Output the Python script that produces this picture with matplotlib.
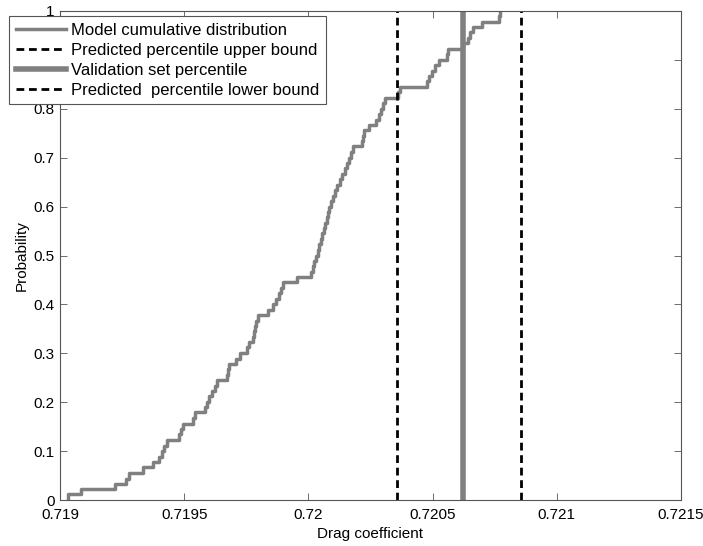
import matplotlib
matplotlib.use('Agg')
import matplotlib.pyplot as plt
from matplotlib.ticker import FuncFormatter

plt.rcParams['font.family'] = ['Liberation Sans', 'DejaVu Sans']

# empirical CDF of model drag coefficient (step positions and probabilities)
drag = [0.719033, 0.719083, 0.719221, 0.719264, 0.719278, 0.719333, 0.719376,
        0.719400, 0.719409, 0.719417, 0.719432, 0.719479, 0.719486, 0.719496,
        0.719537, 0.719543, 0.719584, 0.719591, 0.719600, 0.719612, 0.719624,
        0.719633, 0.719671, 0.719676, 0.719682, 0.719709, 0.719725, 0.719752,
        0.719761, 0.719776, 0.719781, 0.719787, 0.719791, 0.719796, 0.719839,
        0.719859, 0.719870, 0.719883, 0.719890, 0.719899, 0.719953, 0.720010,
        0.720017, 0.720024, 0.720031, 0.720037, 0.720043, 0.720049, 0.720055,
        0.720061, 0.720067, 0.720073, 0.720079, 0.720085, 0.720091, 0.720100,
        0.720109, 0.720117, 0.720127, 0.720135, 0.720147, 0.720157, 0.720165,
        0.720171, 0.720179, 0.720214, 0.720219, 0.720225, 0.720245, 0.720272,
        0.720285, 0.720294, 0.720302, 0.720308, 0.720361, 0.720369, 0.720476,
        0.720485, 0.720498, 0.720510, 0.720527, 0.720559, 0.720564, 0.720621,
        0.720642, 0.720650, 0.720661, 0.720698, 0.720769, 0.720773]
prob = [0.0117, 0.023, 0.033, 0.044, 0.056, 0.067, 0.078,
        0.089, 0.100, 0.111, 0.123, 0.134, 0.145, 0.156,
        0.167, 0.179, 0.190, 0.201, 0.212, 0.223, 0.234,
        0.245, 0.256, 0.267, 0.278, 0.289, 0.300, 0.312,
        0.323, 0.334, 0.345, 0.356, 0.367, 0.378, 0.389,
        0.400, 0.412, 0.423, 0.434, 0.445, 0.456, 0.467,
        0.478, 0.489, 0.500, 0.511, 0.523, 0.534, 0.545,
        0.556, 0.567, 0.578, 0.589, 0.600, 0.611, 0.622,
        0.634, 0.645, 0.656, 0.667, 0.678, 0.689, 0.700,
        0.712, 0.723, 0.734, 0.745, 0.756, 0.767, 0.778,
        0.789, 0.800, 0.812, 0.823, 0.834, 0.845, 0.856,
        0.867, 0.878, 0.889, 0.900, 0.912, 0.923, 0.934,
        0.945, 0.956, 0.967, 0.978, 0.989, 1.000]

upper_bound = 0.720358
validation = 0.720621
lower_bound = 0.720855

xticks = [0.719, 0.7195, 0.72, 0.7205, 0.721, 0.7215]
yticks = [0, 0.1, 0.2, 0.3, 0.4, 0.5, 0.6, 0.7, 0.8, 0.9, 1]

grey = (0.5, 0.5, 0.5)
dash = (0, (2.8, 1.7))

fig = plt.figure(figsize=(7.03, 5.46), dpi=100)
ax = fig.add_axes([0.0853, 0.0842, 0.8834, 0.8957])

ax.step([drag[0]] + drag, [0] + prob, where='post', color=grey, lw=2.5,
        label='Model cumulative distribution')
ax.axvline(upper_bound, color='black', lw=2, linestyle=dash,
           label='Predicted percentile upper bound')
ax.axvline(validation, color=grey, lw=4,
           label='Validation set percentile')
ax.axvline(lower_bound, color='black', lw=2, linestyle=dash,
           label='Predicted  percentile lower bound')

ax.set_xlim(0.719, 0.7215)
ax.set_ylim(0, 1)
ax.set_xticks(xticks)
ax.set_yticks(yticks)
fmt = FuncFormatter(lambda v, p: '%g' % v)
ax.xaxis.set_major_formatter(fmt)
ax.yaxis.set_major_formatter(fmt)
ax.tick_params(direction='in', length=5, width=0.6, color='#555555',
               top=True, right=True, labelsize=11)
ax.tick_params(axis='x', pad=6)
ax.tick_params(axis='y', pad=4)
for s in ax.spines.values():
    s.set_color('#555555')
    s.set_linewidth(0.8)

ax.set_xlabel('Drag coefficient', fontsize=11, labelpad=3)
ax.set_ylabel('Probability', fontsize=11, labelpad=3)

leg = ax.legend(loc='upper left', bbox_to_anchor=(0.013, 0.971),
                bbox_transform=fig.transFigure, fontsize=12, fancybox=False,
                framealpha=1, edgecolor='#555555', handlelength=3.0,
                handletextpad=0.3, labelspacing=0.3, borderpad=0.4,
                borderaxespad=0)
leg.get_frame().set_linewidth(0.8)

fig.savefig('out.png', dpi=100)
